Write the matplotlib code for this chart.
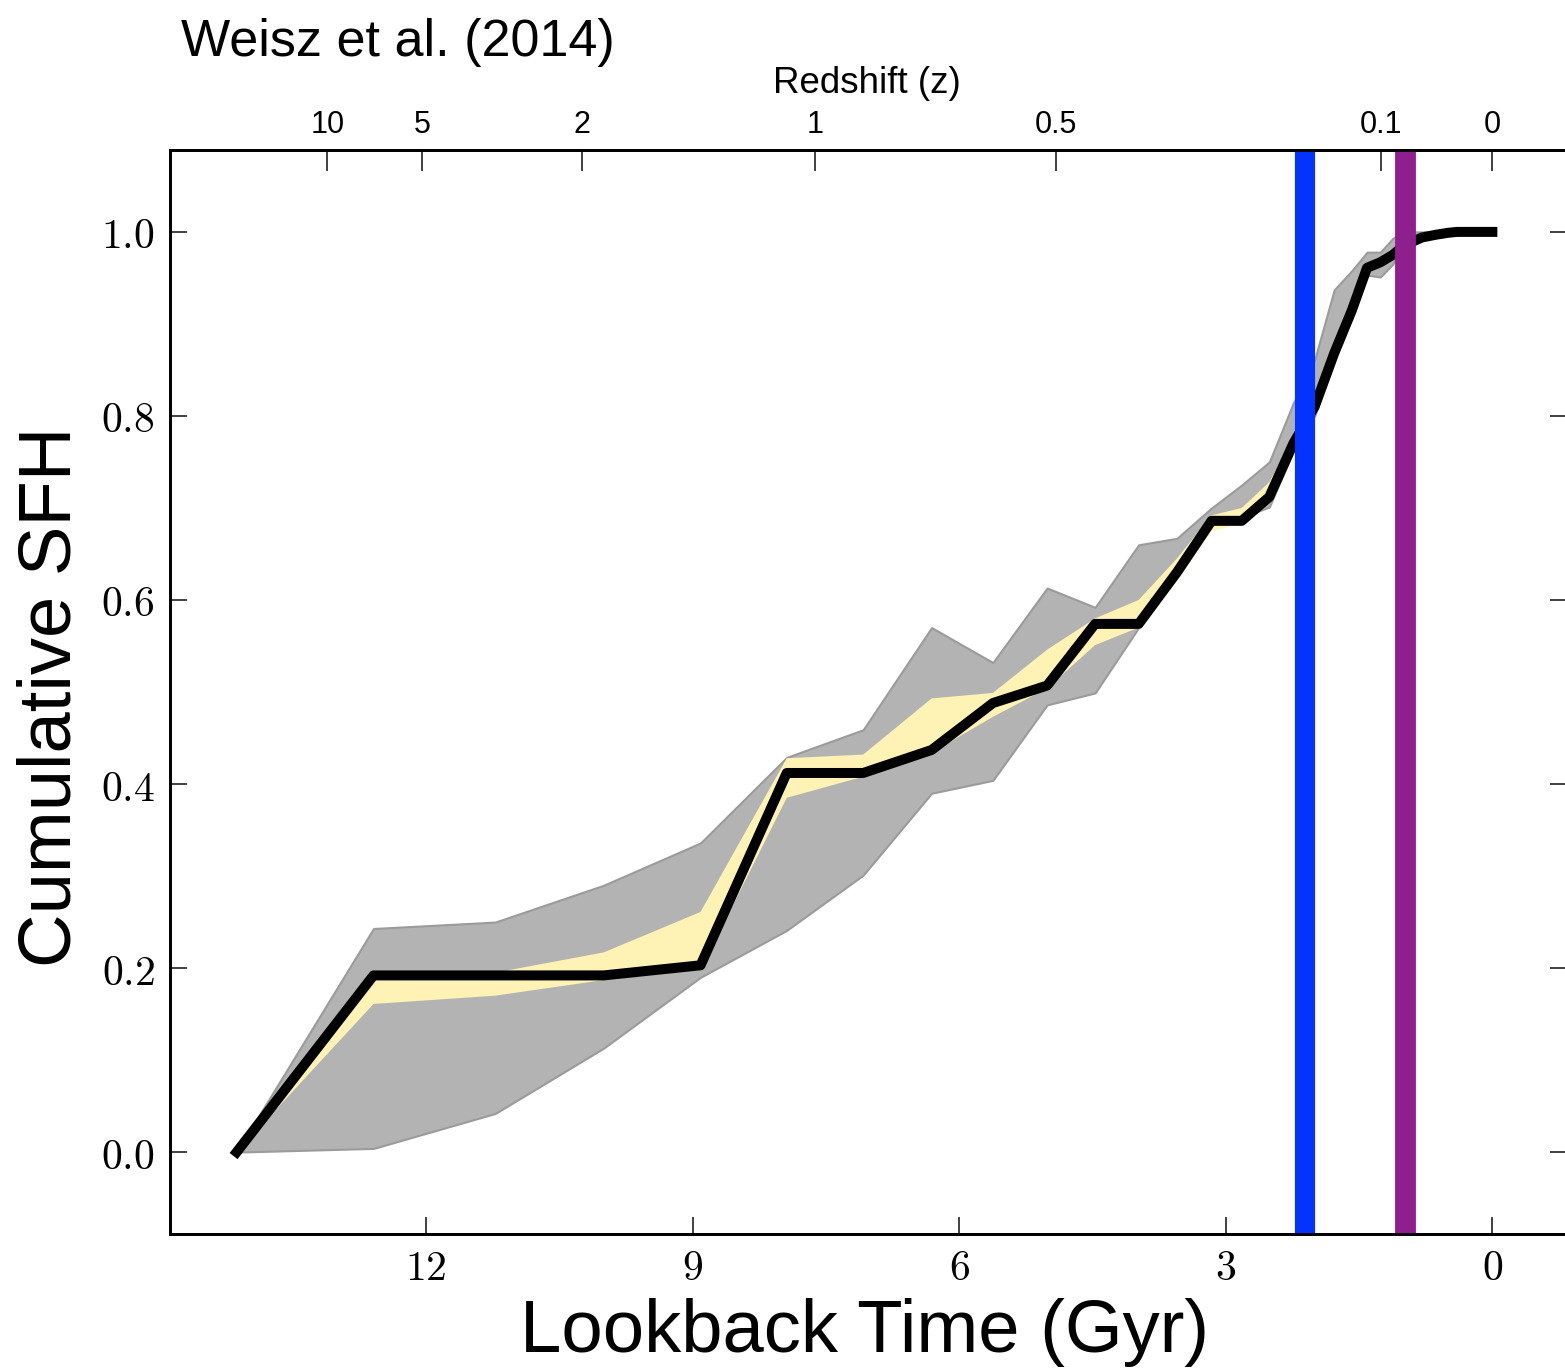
import matplotlib
matplotlib.use("Agg")
import matplotlib.pyplot as plt
from matplotlib.ticker import FixedLocator, FixedFormatter, FuncFormatter

# Lookback time of each age bin edge (Gyr)
lookback_gyr = [14.13, 12.59, 11.22, 10.00, 8.91, 7.94, 7.08, 6.31, 5.62, 5.01,
                4.47, 3.98, 3.55, 3.16, 2.82, 2.51, 2.24, 2.00, 1.78, 1.58,
                1.41, 1.26, 1.12, 1.00, 0.79, 0.63, 0.50, 0.40, 0.00]

# Best-fit cumulative star formation history
cum_sfh = [0.000, 0.192, 0.192, 0.192, 0.203, 0.412, 0.412, 0.437, 0.488, 0.507,
           0.574, 0.574, 0.630, 0.686, 0.686, 0.712, 0.770, 0.810, 0.868, 0.915,
           0.961, 0.967, 0.975, 0.985, 0.994, 0.997, 0.999, 1.000, 1.000]

# Total (systematic + random) uncertainty envelope
total_lo = [0.000, 0.004, 0.042, 0.113, 0.190, 0.241, 0.301, 0.390, 0.404, 0.486,
            0.499, 0.570, 0.625, 0.680, 0.690, 0.701, 0.762, 0.800, 0.862, 0.908,
            0.953, 0.951, 0.965, 0.985, 0.993, 0.996, 0.999, 1.000, 1.000]
total_hi = [0.000, 0.243, 0.250, 0.290, 0.336, 0.429, 0.459, 0.570, 0.532, 0.613,
            0.592, 0.660, 0.667, 0.700, 0.725, 0.750, 0.814, 0.861, 0.937, 0.958,
            0.978, 0.978, 0.993, 1.000, 1.000, 1.000, 1.000, 1.000, 1.000]

# Random-only uncertainty envelope
random_lo = [0.000, 0.161, 0.170, 0.187, 0.198, 0.385, 0.408, 0.434, 0.473, 0.504,
             0.551, 0.570, 0.620, 0.675, 0.683, 0.710, 0.765, 0.805, 0.863, 0.912,
             0.958, 0.964, 0.972, 0.983, 0.991, 0.995, 0.998, 1.000, 1.000]
random_hi = [0.000, 0.192, 0.195, 0.217, 0.261, 0.428, 0.432, 0.493, 0.499, 0.546,
             0.580, 0.600, 0.645, 0.692, 0.700, 0.728, 0.776, 0.815, 0.872, 0.917,
             0.962, 0.968, 0.976, 0.986, 0.994, 0.997, 0.999, 1.000, 1.000]

# Marked epochs (Gyr ago)
epoch_blue = 2.11
epoch_purple = 0.98

# Redshift axis: lookback times of the labelled redshifts
redshift_pos = [13.11, 12.04, 10.24, 7.62, 4.91, 1.25, 0.0]
redshift_labels = ["10", "5", "2", "1", "0.5", "0.1", "0"]

time_ticks = [12, 9, 6, 3, 0]
sfh_ticks = [0.0, 0.2, 0.4, 0.6, 0.8, 1.0]

plt.rcParams["mathtext.fontset"] = "cm"

W, H = 1565, 1370
fig = plt.figure(figsize=(W / 100, H / 100), dpi=100)
ax = fig.add_axes([170 / W, 1 - 1234 / H, (1567 - 170) / W, (1234 - 150) / H])

ax.fill_between(lookback_gyr, total_lo, total_hi, facecolor="#b3b3b3",
                edgecolor="#9b9b9b", linewidth=1.5, zorder=1)
ax.fill_between(lookback_gyr, random_lo, random_hi, facecolor="#fff2b5",
                edgecolor="none", zorder=2)
ax.plot(lookback_gyr, cum_sfh, color="black", linewidth=7.2, zorder=3)
ax.axvline(epoch_blue, color="#0433ff", linewidth=14.5, zorder=4)
ax.axvline(epoch_purple, color="#8e1f8c", linewidth=15, zorder=4)

ax.set_xlim(14.88, -0.84)
ax.set_ylim(-0.089, 1.089)

for s in ax.spines.values():
    s.set_linewidth(2.0)
    s.set_color("black")

ax.xaxis.set_major_locator(FixedLocator(time_ticks))
ax.xaxis.set_major_formatter(FuncFormatter(lambda v, p: r"$%d$" % round(v)))
ax.yaxis.set_major_locator(FixedLocator(sfh_ticks))
ax.yaxis.set_major_formatter(FuncFormatter(lambda v, p: r"$%.1f$" % v))
ax.tick_params(axis="both", direction="in", length=12, width=1.3,
               color="#333333", labelsize=30)
ax.tick_params(axis="x", top=False, pad=9)
ax.tick_params(axis="y", left=True, right=True, pad=11)

ax2 = ax.twiny()
ax2.set_xlim(ax.get_xlim())
ax2.xaxis.set_major_locator(FixedLocator(redshift_pos))
ax2.xaxis.set_major_formatter(FixedFormatter(redshift_labels))
ax2.tick_params(axis="x", direction="in", length=15, width=1.3,
                color="#333333", labelsize=22, pad=7.5)
for lbl in ax2.get_xticklabels():
    lbl.set_family("Liberation Sans")
for s in ax2.spines.values():
    s.set_linewidth(2.0)

sans = "Liberation Sans"
fig.text(867 / W, 1 - 93 / H, "Redshift (z)", ha="center", va="baseline",
         fontsize=26.5, family=sans)
fig.text(865 / W, 1 - 1352 / H, "Lookback Time (Gyr)", ha="center",
         va="baseline", fontsize=53.5, family=sans)
fig.text(51 / W, 1 - 697 / H, "Cumulative SFH", ha="center", va="center",
         rotation=90, fontsize=53.5, family=sans)
fig.text(181 / W, 1 - 56 / H, "Weisz et al. (2014)", ha="left",
         va="baseline", fontsize=37.5, family=sans)

fig.savefig("out.png", dpi=100)
